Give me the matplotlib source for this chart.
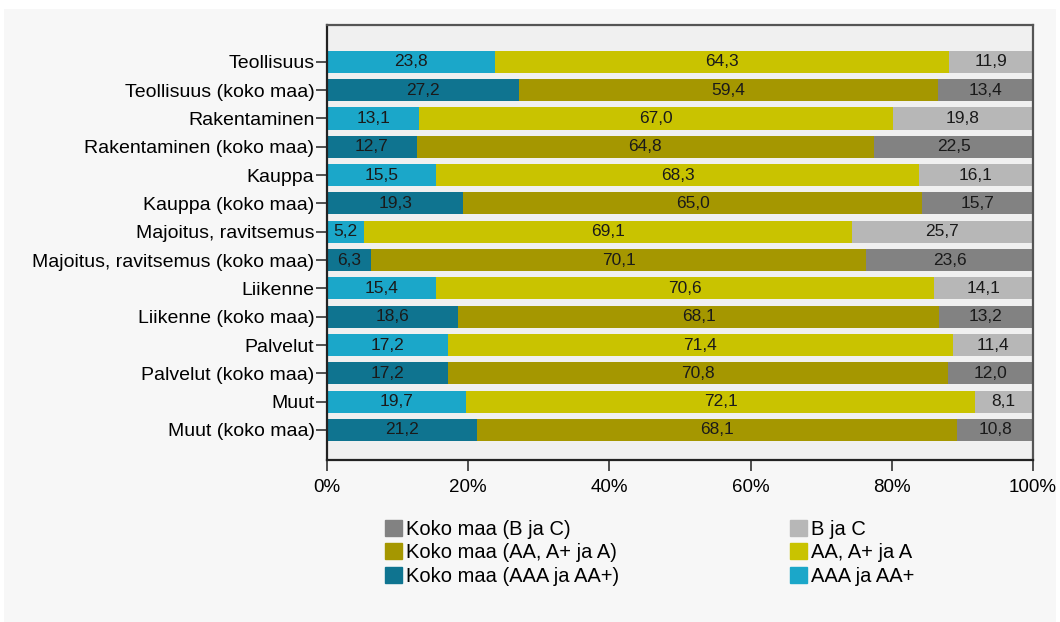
import numpy as np
import matplotlib
matplotlib.use('Agg')
from matplotlib import pyplot as plt
from matplotlib.patches import Rectangle, Patch

categories = [
    'Teollisuus', 'Teollisuus (koko maa)',
    'Rakentaminen', 'Rakentaminen (koko maa)',
    'Kauppa', 'Kauppa (koko maa)',
    'Majoitus, ravitsemus', 'Majoitus, ravitsemus (koko maa)',
    'Liikenne', 'Liikenne (koko maa)',
    'Palvelut', 'Palvelut (koko maa)',
    'Muut', 'Muut (koko maa)',
]
aaa = [23.8, 27.2, 13.1, 12.7, 15.5, 19.3, 5.2, 6.3, 15.4, 18.6, 17.2, 17.2, 19.7, 21.2]
aa = [64.3, 59.4, 67.0, 64.8, 68.3, 65.0, 69.1, 70.1, 70.6, 68.1, 71.4, 70.8, 72.1, 68.1]
bc = [11.9, 13.4, 19.8, 22.5, 16.1, 15.7, 25.7, 23.6, 14.1, 13.2, 11.4, 12.0, 8.1, 10.8]
xticks = [0, 20, 40, 60, 80, 100]

# colours: own region / koko maa
c_aaa = ('#1ba7c9', '#0f7490')
c_aa = ('#c9c300', '#a59700')
c_bc = ('#b7b7b7', '#828282')

plt.rcParams['font.family'] = ['Liberation Sans', 'DejaVu Sans']

fig = plt.figure(figsize=(10.6, 6.22), dpi=100, facecolor='white')
fig.patches.append(Rectangle((0.004, 0), 0.992, 1 - 9 / 622, transform=fig.transFigure,
                             facecolor='#f7f7f7', edgecolor='none', zorder=-10))

ax = fig.add_axes([327 / 1060, 1 - 460 / 622, 706 / 1060, 435 / 622])
ax.set_facecolor('#f0f0f0')

y = np.arange(len(categories))
kind = [i % 2 for i in range(len(categories))]
left = np.zeros(len(categories))
for vals, cols in [(aaa, c_aaa), (aa, c_aa), (bc, c_bc)]:
    vals = np.array(vals)
    colors = [cols[k] for k in kind]
    ax.barh(y, vals, left=left, height=0.78, color=colors, edgecolor='none')
    for yi, l, v in zip(y, left, vals):
        ax.text(l + v / 2, yi, f'{v:.1f}'.replace('.', ','), ha='center', va='center',
                fontsize=12.5, color='#1a1a1a')
    left = left + vals

ax.set_xlim(0, 100)
ax.set_ylim(14.06, -1.3)
ax.set_yticks(y)
ax.set_yticklabels(categories, fontsize=14)
ax.set_xticks(xticks)
ax.set_xticklabels([f'{t}%' for t in xticks], fontsize=13.5)
ax.tick_params(axis='y', length=8, width=1.2, color='#333333', pad=1)
ax.tick_params(axis='x', length=8, width=1.2, color='#333333', pad=6)
for s in ax.spines.values():
    s.set_color('#555555')
    s.set_linewidth(1.6)
ax.spines['left'].set_color('#222222')
ax.spines['bottom'].set_color('#222222')

left_handles = [Patch(color=c_bc[1]), Patch(color=c_aa[1]), Patch(color=c_aaa[1])]
left_labels = ['Koko maa (B ja C)', 'Koko maa (AA, A+ ja A)', 'Koko maa (AAA ja AA+)']
right_handles = [Patch(color=c_bc[0]), Patch(color=c_aa[0]), Patch(color=c_aaa[0])]
right_labels = ['B ja C', 'AA, A+ ja A', 'AAA ja AA+']
legend_font = {'size': 14.5}
for handles, labels, x0 in [(left_handles, left_labels, 385 / 1060), (right_handles, right_labels, 790 / 1060)]:
    fig.legend(handles, labels, loc='upper left', bbox_to_anchor=(x0, 1 - 520 / 622),
               frameon=False, prop=legend_font, handlelength=0.85, handleheight=0.85,
               handletextpad=0.2, labelspacing=0.22, borderaxespad=0, borderpad=0)

fig.savefig('out.png', dpi=100, facecolor=fig.get_facecolor())
